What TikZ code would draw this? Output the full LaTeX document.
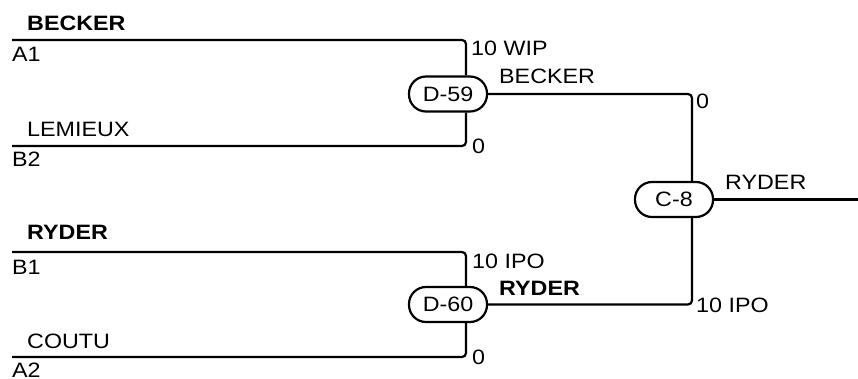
\documentclass[tikz,border=0pt]{standalone}
\usepackage{fontspec}
\setmainfont{Liberation Sans}[FakeStretch=1.12]
\begin{document}
\begin{tikzpicture}[x=1pt,y=-1pt,
  every node/.style={font=\fontsize{20.8}{24}\selectfont},
  gate/.style={draw, line width=2.2pt, rounded corners=17pt, minimum width=78pt, minimum height=35pt, inner sep=0pt},
  wire/.style={draw, line width=2.2pt, rounded corners=4pt},
  lbl/.style={anchor=base west, inner sep=0pt},
  blbl/.style={lbl, font=\fontsize{20.8}{24}\selectfont\bfseries}]
\useasboundingbox (0,0) rectangle (858,379);
% gates
\node[gate] (d59) at (448,94) {D-59};
\node[gate] (d60) at (448,304.5) {D-60};
\node[gate] (c8) at (674,199.5) {C-8};
% free ends
\coordinate (a1) at (12,40);
\coordinate (b2) at (12,146);
\coordinate (b1) at (12,252);
\coordinate (a2) at (12,357);
\coordinate (out) at (858,198);
% wires
\draw[wire] (a1) -| ([xshift=18pt]d59.north);
\draw[wire] (b2) -| ([xshift=18pt]d59.south);
\draw[wire] (b1) -| ([xshift=18pt]d60.north);
\draw[wire] (a2) -| ([xshift=18pt]d60.south);
\draw[wire] (d59.east) -| ([xshift=18pt]c8.north);
\draw[wire] (d60.east) -| ([xshift=18pt]c8.south);
\draw[wire] (c8.east) -- (c8.east -| out);
% labels
\node[blbl] (t1) at (27,31) {BECKER};
\node[lbl] (t2) at (12,62) {A1};
\node[lbl] (t3) at (27,137) {LEMIEUX};
\node[lbl] (t4) at (12,167) {B2};
\node[lbl] (t5) at (471,56) {10 WIP};
\node[lbl] (t6) at (472,154) {0};
\node[lbl] (t7) at (499,84) {BECKER};
\node[lbl] (t8) at (696,109) {0};
\node[lbl] (t9) at (725,190) {RYDER};
\node[blbl] (t10) at (27,240) {RYDER};
\node[lbl] (t11) at (12,274) {B1};
\node[lbl] (t12) at (27,348) {COUTU};
\node[lbl] (t13) at (12,377) {A2};
\node[lbl] (t14) at (472,268) {10 IPO};
\node[lbl] (t15) at (472,364) {0};
\node[blbl] (t16) at (499,295) {RYDER};
\node[lbl] (t17) at (696,312) {10 IPO};
\end{tikzpicture}
\end{document}
